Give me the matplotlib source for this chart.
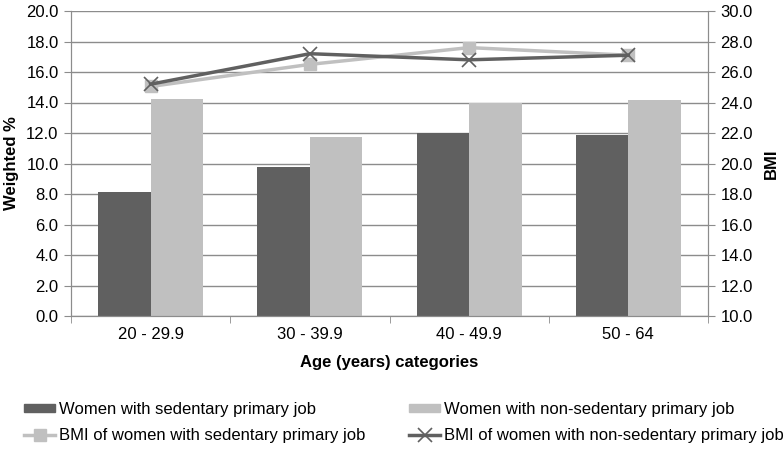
import matplotlib.pyplot as plt
from matplotlib.lines import Line2D
from matplotlib.patches import Patch
import numpy as np

plt.rcParams['font.family'] = ['Liberation Sans', 'DejaVu Sans']

# ========== 数据 ==========
categories = ['20 - 29.9', '30 - 39.9', '40 - 49.9', '50 - 64']
sedentary_pct = [8.1, 9.75, 12.0, 11.9]
non_sedentary_pct = [14.25, 11.75, 14.0, 14.15]
bmi_sedentary = [25.05, 26.5, 27.6, 27.1]
bmi_non_sedentary = [25.2, 27.2, 26.8, 27.1]

dark = '#606060'
light = '#c0c0c0'
grid_c = '#8c8c8c'

fig = plt.figure(figsize=(7.84, 4.49), dpi=100)
ax = fig.add_axes([71 / 784, 1 - 316 / 449, 637 / 784, 305 / 449])
ax2 = ax.twinx()

x = np.arange(len(categories))
w = 0.33
ax.bar(x - w / 2, sedentary_pct, w, color=dark, zorder=2)
ax.bar(x + w / 2, non_sedentary_pct, w, color=light, zorder=2)

ax2.plot(x, bmi_sedentary, color=light, lw=2.5, marker='s', ms=8, zorder=3)
ax2.plot(x, bmi_non_sedentary, color=dark, lw=2.5, marker='x', ms=10, mew=1.2, zorder=4)

ax.set_xlim(-0.5, len(categories) - 0.5)
ax.set_ylim(0, 20)
ax2.set_ylim(10, 30)
ax.set_yticks(np.arange(0, 20.1, 2))
ax2.set_yticks(np.arange(10, 30.1, 2))
ax.set_yticklabels([f'{v:.1f}' for v in np.arange(0, 20.1, 2)])
ax2.set_yticklabels([f'{v:.1f}' for v in np.arange(10, 30.1, 2)])
ax.yaxis.grid(True, color=grid_c, lw=1.0, zorder=0)
ax.set_axisbelow(True)

# x 轴：标签居中，刻度在分类边界
ax.set_xticks(x)
ax.set_xticklabels(categories)
ax.set_xticks(np.arange(-0.5, len(categories)), minor=True)
ax.tick_params(axis='x', which='major', length=0, pad=8, labelsize=12)
ax.tick_params(axis='x', which='minor', length=5, color=grid_c)
ax.tick_params(axis='y', length=5, color=grid_c, labelsize=12, pad=4)
ax2.tick_params(axis='y', length=5, color=grid_c, labelsize=12, pad=4)

for a in (ax, ax2):
    for s in a.spines.values():
        s.set_color(grid_c)
    a.spines['top'].set_visible(False)

ax.set_xlabel('Age (years) categories', fontsize=12, fontweight='bold', labelpad=9)
ax.set_ylabel('Weighted %', fontsize=12, fontweight='bold', labelpad=5)
ax2.set_ylabel('BMI', fontsize=12, fontweight='bold', labelpad=8)

handles = [
    Patch(color=dark),
    Line2D([], [], color=light, lw=2.5, marker='s', ms=8),
    Patch(color=light),
    Line2D([], [], color=dark, lw=2.5, marker='x', ms=10, mew=1.2),
]
labels = [
    'Women with sedentary primary job',
    'BMI of women with sedentary primary job',
    'Women with non-sedentary primary job',
    'BMI of women with non-sedentary primary job',
]
fig.legend(handles, labels, ncol=2, loc='lower left', bbox_to_anchor=(24 / 784, 6 / 449),
           borderaxespad=0, borderpad=0,
           frameon=False, fontsize=12, handlelength=1.86, handletextpad=0.24,
           columnspacing=2.64, labelspacing=0.68, handleheight=0.35)

fig.savefig('out.png', dpi=100)
